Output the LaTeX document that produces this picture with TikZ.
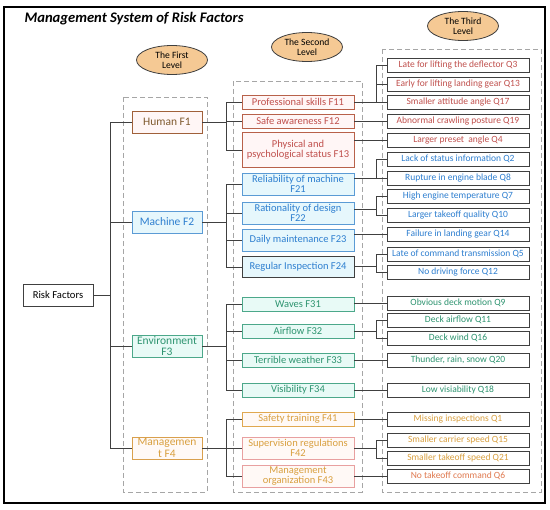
\documentclass[tikz,border=0pt]{standalone}
\usepackage{fontspec}
\setmainfont{Carlito}
\usetikzlibrary{shapes.geometric}
\definecolor{dashgray}{HTML}{A6A6A6}
\definecolor{ellfill}{HTML}{F5C994}
\definecolor{ellborder}{HTML}{3F3F3F}
\definecolor{linec}{HTML}{404040}
\definecolor{humtext}{HTML}{C0504D}
\definecolor{humborder}{HTML}{B8614A}
\definecolor{humfill}{HTML}{FFF6F6}
\definecolor{honetext}{HTML}{7F5A2E}
\definecolor{honeborder}{HTML}{A0603A}
\definecolor{mactext}{HTML}{2E7FD0}
\definecolor{macborder}{HTML}{5B9BD5}
\definecolor{macfill}{HTML}{E6F7FC}
\definecolor{envtext}{HTML}{2E9470}
\definecolor{envborder}{HTML}{4CA88A}
\definecolor{envfill}{HTML}{E8FAF6}
\definecolor{mgttext}{HTML}{D9A040}
\definecolor{mgtborder}{HTML}{E0A850}
\definecolor{mgtpink}{HTML}{E8A0A0}
\definecolor{mgtfill}{HTML}{FFF9F6}
\definecolor{qsixtext}{HTML}{E07A50}
\definecolor{qborder}{HTML}{404040}
\tikzset{
  lvl/.style={draw=dashgray, dashed, line width=0.8pt, dash pattern=on 5pt off 3pt},
  ell/.style={ellipse, draw=ellborder, fill=ellfill, line width=0.8pt, minimum width=71, minimum height=29, inner sep=0, align=center, font=\fontsize{9.6}{10.5}\selectfont},
  boxone/.style={draw, line width=0.8pt, minimum width=70, minimum height=22, inner sep=0, align=center, font=\fontsize{11.5}{11}\selectfont},
  boxtwo/.style={draw, line width=0.8pt, minimum width=112, minimum height=14, inner sep=0, align=center, font=\fontsize{10.5}{10.5}\selectfont},
  boxthree/.style={draw=qborder, line width=0.9pt, fill=white, minimum width=142, minimum height=14, inner sep=0, align=center, font=\fontsize{9.5}{10}\selectfont},
  hum/.style={boxtwo, draw=humborder, fill=humfill, text=humtext},
  mac/.style={boxtwo, draw=macborder, fill=macfill, text=mactext},
  env/.style={boxtwo, draw=envborder, fill=envfill, text=envtext},
  mgt/.style={boxtwo, draw=mgtpink, fill=mgtfill, text=mgttext},
  conn/.style={draw=linec, line width=0.8pt},
}
\begin{document}
\begin{tikzpicture}[x=1pt,y=-1pt]
\useasboundingbox (0,0) rectangle (550,510);
% outer frame
\draw[line width=1.5pt, black] (4,7) rectangle (545,503);
\node[anchor=west, font=\fontsize{14.6}{14.6}\bfseries\itshape\selectfont] (title) at (21,19) {Management System of Risk Factors};
% level boxes
\draw[lvl] (123,97) rectangle (207,492);
\draw[lvl] (233,81) rectangle (362,492);
\draw[lvl] (382,49) rectangle (541,492);
% ellipses
\node[ell] (e1) at (172,60) {The First\\Level};
\node[ell] (e2) at (307,47) {The Second\\Level};
\node[ell] (e3) at (463,26) {The Third\\Level};
% root
\node[boxone, draw=linec, font=\fontsize{10.6}{11}\selectfont] (rf) at (58,295) {Risk Factors};
% level 1
\node[boxone, draw=honeborder, fill=humfill, text=honetext] (h1) at (167,122) {Human F1};
\node[boxone, draw=macborder, fill=macfill, text=mactext] (m2) at (167,222) {Machine F2};
\node[boxone, draw=envborder, fill=envfill, text=envtext, font=\fontsize{11.5}{11.5}\selectfont] (v3) at (167,346) {Environment\\F3};
\node[boxone, draw=mgtborder!80!brown, fill=mgtfill, text=mgttext, font=\fontsize{11.5}{11.5}\selectfont] (g4) at (167,448) {Managemen\\t F4};
% level 2
\node[hum] (f11) at (298,102) {Professional skills F11};
\node[hum] (f12) at (298,121) {Safe awareness F12};
\node[hum, minimum height=35] (f13) at (298,150) {Physical and\\psychological status F13};
\node[mac, minimum height=22] (f21) at (298,184) {Reliability of machine\\F21};
\node[mac, minimum height=22] (f22) at (298,213) {Rationality of design\\F22};
\node[mac, minimum height=22] (f23) at (298,240) {Daily maintenance F23};
\node[mac, minimum height=21, draw=qborder] (f24) at (298,267) {Regular Inspection F24};
\node[env] (f31) at (298,304) {Waves F31};
\node[env] (f32) at (298,331) {Airflow F32};
\node[env] (f33) at (298,360) {Terrible weather F33};
\node[env] (f34) at (298,390) {Visibility F34};
\node[mgt, draw=mgtborder] (f41) at (298,419) {Safety training F41};
\node[mgt, minimum height=22] (f42) at (298,448) {Supervision regulations\\F42};
\node[mgt, minimum height=22] (f43) at (298,476) {Management\\organization F43};
% level 3
\node[boxthree, text=humtext] (q3) at (458,65) {Late for lifting the deflector Q3};
\node[boxthree, text=humtext] (q13) at (458,84) {Early for lifting landing gear Q13};
\node[boxthree, text=humtext] (q17) at (458,102) {Smaller attitude angle Q17};
\node[boxthree, text=humtext] (q19) at (458,121) {Abnormal crawling posture Q19};
\node[boxthree, text=humtext] (q4) at (458,140) {Larger preset\ \ angle Q4};
\node[boxthree, text=mactext] (q2) at (458,159) {Lack of status information Q2};
\node[boxthree, text=mactext] (q8) at (458,178) {Rupture in engine blade Q8};
\node[boxthree, text=mactext] (q7) at (458,196) {High engine temperature Q7};
\node[boxthree, text=mactext] (q10) at (458,215) {Larger takeoff quality Q10};
\node[boxthree, text=mactext] (q14) at (458,234) {Failure in landing gear Q14};
\node[boxthree, text=mactext] (q5) at (458,254) {Late of command transmission Q5};
\node[boxthree, text=mactext] (q12) at (458,272) {No driving force Q12};
\node[boxthree, text=envtext] (q9) at (458,303) {Obvious deck motion Q9};
\node[boxthree, text=envtext] (q11) at (458,320) {Deck airflow Q11};
\node[boxthree, text=envtext] (q16) at (458,338) {Deck wind Q16};
\node[boxthree, text=envtext] (q20) at (458,360) {Thunder, rain, snow Q20};
\node[boxthree, text=envtext] (q18) at (458,390) {Low visiability Q18};
\node[boxthree, text=mgttext] (q1) at (458,419) {Missing inspections Q1};
\node[boxthree, text=mgttext] (q15) at (458,440) {Smaller carrier speed Q15};
\node[boxthree, text=mgttext] (q21) at (458,458) {Smaller takeoff speed Q21};
\node[boxthree, text=qsixtext] (q6) at (458,476) {No takeoff command Q6};
% junction columns
\coordinate (ta) at (110,0);
\coordinate (tb) at (226,0);
\coordinate (tc) at (376,0);
% root to level 1
\draw[conn] (rf.east) -- (rf.east -| ta);
\draw[conn] (h1.west) -- (h1.west -| ta) -- (g4.west -| ta) -- (g4.west);
\draw[conn] (m2.west) -- (m2.west -| ta);
\draw[conn] (v3.west) -- (v3.west -| ta);
% level 1 to level 2
\draw[conn] (h1.east) -- (h1.east -| tb);
\draw[conn] (f11.west) -- (f11.west -| tb) -- (f13.west -| tb) -- (f13.west);
\draw[conn] (f12.west) -- (f12.west -| tb);
\draw[conn] (m2.east) -- (m2.east -| tb);
\draw[conn] (f21.west) -- (f21.west -| tb) -- (f24.west -| tb) -- (f24.west);
\draw[conn] (f22.west) -- (f22.west -| tb);
\draw[conn] (f23.west) -- (f23.west -| tb);
\draw[conn] (v3.east) -- (v3.east -| tb);
\draw[conn] (f31.west) -- (f31.west -| tb) -- (f34.west -| tb) -- (f34.west);
\draw[conn] (f32.west) -- (f32.west -| tb);
\draw[conn] (f33.west) -- (f33.west -| tb);
\draw[conn] (g4.east) -- (g4.east -| tb);
\draw[conn] (f41.west) -- (f41.west -| tb) -- (f43.west -| tb) -- (f43.west);
\draw[conn] (f42.west) -- (f42.west -| tb);
% level 2 to level 3
\draw[conn] (f11.east) -- (f11.east -| tc);
\draw[conn] (q3.west) -- (q3.west -| tc) -- (q17.west -| tc) -- (q17.west);
\draw[conn] (q13.west) -- (q13.west -| tc);
\draw[conn] (f12.east) -- (q19.west);
\draw[conn] (f13.east |- q4.west) -- (q4.west);
\draw[conn] (f21.east |- q8.west) -- (q8.west -| tc);
\draw[conn] (q2.west) -- (q2.west -| tc) -- (q8.west -| tc) -- (q8.west);
\draw[conn] (f22.east |- 0,209) -- (tc |- 0,209);
\draw[conn] (q7.west) -- (q7.west -| tc) -- (q10.west -| tc) -- (q10.west);
\draw[conn] (f23.east |- q14.west) -- (q14.west);
\draw[conn] (f24.east |- 0,266) -- (tc |- 0,266);
\draw[conn] (q5.west) -- (q5.west -| tc) -- (q12.west -| tc) -- (q12.west);
\draw[conn] (f31.east |- q9.west) -- (q9.west);
\draw[conn] (f32.east) -- (f32.east -| tc);
\draw[conn] (q11.west) -- (q11.west -| tc) -- (q16.west -| tc) -- (q16.west);
\draw[conn] (f33.east) -- (q20.west);
\draw[conn] (f34.east) -- (q18.west);
\draw[conn] (f41.east) -- (q1.west);
\draw[conn] (f42.east) -- (f42.east -| tc);
\draw[conn] (q15.west) -- (q15.west -| tc) -- (q21.west -| tc) -- (q21.west);
\draw[conn] (f43.east) -- (q6.west);
\end{tikzpicture}
\end{document}
